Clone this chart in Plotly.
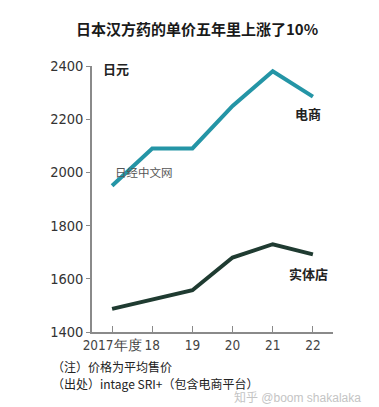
import plotly.graph_objects as go

years = ["2017年度", "18", "19", "20", "21", "22"]
ecommerce = [1950, 2090, 2090, 2250, 2380, 2285]
stores = [1487, 1522, 1557, 1680, 1730, 1692]
y_ticks = [1400, 1600, 1800, 2000, 2200, 2400]

# page has an 8px body margin; the figure sits at (8, 8)
OFF = 8
W, H = 379 - OFF, 407 - OFF
L, R, T, B = 92 - OFF, 46, 66 - OFF, 75
PW, PH = W - L - R, H - T - B


def px(xp, yp):
    """page pixel -> paper coords"""
    return (xp - OFF - L) / PW, (H - B - (yp - OFF)) / PH


FONT = "Noto Sans CJK SC, Liberation Sans, sans-serif"
TICKFONT = "Liberation Sans Narrow, DejaVu Sans Condensed, Liberation Sans, sans-serif"

fig = go.Figure()
fig.add_trace(go.Scatter(x=years, y=ecommerce, mode="lines",
                         line=dict(color="#2495a6", width=4), name="电商",
                         hoverinfo="skip"))
fig.add_trace(go.Scatter(x=years, y=stores, mode="lines",
                         line=dict(color="#1f3b31", width=4), name="实体店",
                         hoverinfo="skip"))

anns = []


def add(text, xp, yp, size, color="#222", xanchor="center", yanchor="middle",
        bold=False, font=FONT, **kw):
    x, y = px(xp, yp)
    anns.append(dict(text=("<b>%s</b>" % text) if bold else text, x=x, y=y,
                     xref="paper", yref="paper", showarrow=False,
                     xanchor=xanchor, yanchor=yanchor,
                     font=dict(size=size, color=color, family=font), **kw))


add("日本汉方药的单价五年里上涨了10%", 196.5, 28, 15, bold=True, color="#1a1a1a")
add("日元", 101, 68, 13, xanchor="left", bold=True)
add("电商", 308, 113, 13, bold=True)
add("实体店", 308, 273, 13, bold=True)
add("日经中文网", 144, 172, 11.5, color="#555")
add("（注）价格为平均售价", 50, 366, 12, xanchor="left", color="#222")
add("（出处）intage SRI+（包含电商平台）", 50, 383.5, 12, xanchor="left", color="#222")
add("知乎 @boom shakalaka", 297, 398, 12, color="#c4c4c4",
    font="Liberation Sans, Noto Sans CJK SC, sans-serif")

fig.update_layout(
    width=W, height=H,
    margin=dict(l=L, r=R, t=T, b=B, pad=0),
    paper_bgcolor="white", plot_bgcolor="white",
    showlegend=False,
    annotations=anns,
    xaxis=dict(type="category", range=[-0.5, 5.5], showgrid=False, zeroline=False,
               showline=True, linecolor="#8a8a8a", linewidth=1.5,
               ticks="inside", ticklen=6, tickcolor="#8a8a8a", tickwidth=1,
               tickangle=0,
               tickfont=dict(size=13.5, color="#444", family=TICKFONT),
               fixedrange=True),
    yaxis=dict(range=[1400, 2400], tickvals=y_ticks, showgrid=False, zeroline=False,
               showline=True, linecolor="#8a8a8a", linewidth=1.5,
               ticks="outside", ticklen=4, tickcolor="#8a8a8a", tickwidth=1,
               tickfont=dict(size=14.5, color="#333", family=TICKFONT),
               fixedrange=True),
)

fig.write_html("out.html")
